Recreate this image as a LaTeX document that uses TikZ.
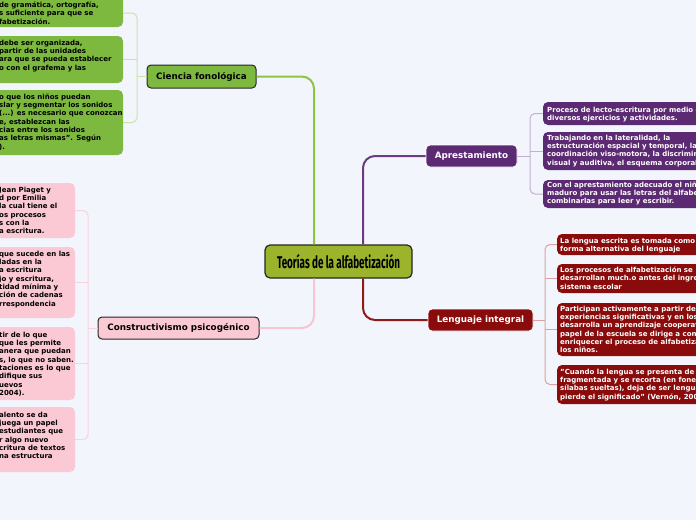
\documentclass[tikz,border=0pt]{standalone}
\usepackage{fontspec}
\setmainfont{DejaVu Sans}
\newfontfamily\condf{Fira Sans}
\usepackage{graphicx}
\definecolor{bgc}{HTML}{F3F5FC}
\definecolor{gfill}{HTML}{7DB93E}
\definecolor{cfill}{HTML}{9BB42C}
\definecolor{pfill}{HTML}{FBC9D4}
\definecolor{vfill}{HTML}{5C2A72}
\definecolor{rfill}{HTML}{8A0B0B}
\definecolor{gtr}{HTML}{8CC540}
\definecolor{ptr}{HTML}{F7C6D1}
\definecolor{vtr}{HTML}{6B3A80}
\definecolor{rtr}{HTML}{8E1A1A}
\definecolor{gbr}{HTML}{C8E3AA}
\definecolor{pbr}{HTML}{F8D3DB}
\definecolor{vbr}{HTML}{C4B0CE}
\definecolor{rbr}{HTML}{D9A3A3}
\begin{document}
\begin{tikzpicture}[x=1pt,y=-1pt,
  mainbox/.style={rounded corners=4pt, draw=black!85, line width=1pt, inner sep=0pt,
    font=\bfseries\fontsize{8.8}{10}\selectfont},
  childbox/.style={rounded corners=5pt, inner sep=0pt},
  ctext/.style={inner sep=0pt, anchor=north west, align=left,
    font=\bfseries\fontsize{7}{8.3}\selectfont},
  trunk/.style={line width=2pt, rounded corners=12pt},
  bracket/.style={line width=1pt, rounded corners=5pt}]
\useasboundingbox (0,0) rectangle (696,520);
\fill[bgc] (0,0) rectangle (696,520);
\begin{scope}
\clip (0,0) rectangle (696,520);
% main nodes
\node[mainbox, fill=cfill, line width=1.2pt, rounded corners=5pt, minimum width=147pt, minimum height=33pt] (central) at (338.5,261.5)
  {\resizebox{123pt}{\height}{\condf\bfseries\fontsize{17}{20}\selectfont Teorías de la alfabetización}};
\node[mainbox, fill=gfill, minimum width=109pt, minimum height=23pt] (ciencia) at (201.5,76.5) {Ciencia fonológica};
\node[mainbox, fill=pfill, minimum width=161pt, minimum height=22pt] (constr) at (178.5,328) {Constructivismo psicogénico};
\node[mainbox, fill=vfill, draw=white, line width=0.8pt, text=white, minimum width=91pt, minimum height=22pt] (apr) at (471.5,156) {Aprestamiento};
\node[mainbox, fill=rfill, draw=white, line width=0.8pt, text=white, minimum width=105pt, minimum height=22pt] (leng) at (480.5,320) {Lenguaje integral};
% green children
\node[childbox, fill=gfill, minimum width=133pt, minimum height=32pt] (g1) at (56.5,11) {};
\node[childbox, fill=gfill, minimum width=133pt, minimum height=47pt] (g2) at (56.5,59.5) {};
\node[childbox, fill=gfill, minimum width=133pt, minimum height=65pt] (g3) at (56.5,122.5) {};
\node[ctext] (g1t) at (-1,1.7) {de gramática, ortografía,\\s suficiente para que se\\fabetización.};
\node[ctext] (g2t) at (-1,39.7) {debe ser organizada,\\partir de las unidades\\ara que se pueda establecer\\o con el grafema y las};
\node[ctext] (g3t) at (-1,93.7) {o que los niños puedan\\slar y segmentar los sonidos\\(...) es necesario que conozcan\\e, establezcan las\\cias entre los sonidos\\as letras mismas". Según\\).};
% pink children
\node[childbox, fill=pfill, minimum width=85pt, minimum height=55pt] (p1) at (32.5,210.5) {};
\node[childbox, fill=pfill, minimum width=85pt, minimum height=71pt] (p2) at (32.5,282.5) {};
\node[childbox, fill=pfill, minimum width=85pt, minimum height=73pt] (p3) at (32.5,363.5) {};
\node[childbox, fill=pfill, minimum width=85pt, minimum height=65pt] (p4) at (32.5,439.5) {};
\node[ctext] (p1t) at (-1,186.7) {Jean Piaget y\\d por Emilia\\la cual tiene el\\os procesos\\s con la\\a escritura.};
\node[ctext] (p2t) at (-1,250.7) {que sucede en las\\ladas en la\\a escritura\\jo y escritura,\\tidad mínima y\\ción de cadenas\\rrespondencia};
\node[ctext] (p3t) at (-1,331.7) {tir de lo que\\que les permite\\anera que puedan\\s, lo que no saben.\\taciones es lo que\\difique sus\\uevos\\2004).};
\node[ctext] (p4t) at (-1,411.7) {alento se da\\juega un papel\\estudiantes que\\r algo nuevo\\critura de textos\\na estructura};
% purple children
\node[childbox, fill=vfill, minimum width=167pt, minimum height=23pt] (a1) at (626.5,113.5) {};
\node[childbox, fill=vfill, minimum width=167pt, minimum height=38pt] (a2) at (626.5,151) {};
\node[childbox, fill=vfill, minimum width=167pt, minimum height=28pt] (a3) at (626.5,194) {};
\node[ctext, text=white] (a1t) at (547,106.7) {Proceso de lecto-escritura por medio d\\diversos ejercicios y actividades.};
\node[ctext, text=white] (a2t) at (547,134.7) {Trabajando en la lateralidad, la\\estructuración espacial y temporal, la\\coordinación viso-motora, la discrimin\\visual y auditiva, el esquema corporal,};
\node[ctext, text=white] (a3t) at (547,181.7) {Con el aprestamiento adecuado el niño\\maduro para usar las letras del alfabet\\combinarlas para leer y escribir.};
% red children
\node[childbox, fill=rfill, minimum width=153pt, minimum height=21pt] (r1) at (633.5,244.5) {};
\node[childbox, fill=rfill, minimum width=153pt, minimum height=29pt] (r2) at (633.5,278.5) {};
\node[childbox, fill=rfill, minimum width=153pt, minimum height=53pt] (r3) at (633.5,329.5) {};
\node[childbox, fill=rfill, minimum width=153pt, minimum height=39pt] (r4) at (633.5,384.5) {};
\node[ctext, text=white] (r1t) at (560,237.7) {La lengua escrita es tomada como\\forma alternativa del lenguaje};
\node[ctext, text=white] (r2t) at (560,266.7) {Los procesos de alfabetización se\\desarrollan much.o antes del ingre\\sistema escolar};
\node[ctext, text=white] (r3t) at (560,305.7) {Participan activamente a partir de\\experiencias significativas y en los\\desarrolla un aprendizaje cooperat\\papel de la escuela se dirige a cont\\enriquecer el proceso de alfabetiza\\los niños.};
\node[ctext, text=white] (r4t) at (560,368.7) {"Cuando la lengua se presenta de r\\fragmentada y se recorta (en fone\\sílabas sueltas), deja de ser lengua\\pierde el significado" (Vernón, 200};
% bracket columns
\coordinate (gbx) at (137,0);
\coordinate (pbx) at (88,0);
\coordinate (vbx) at (530,0);
\coordinate (rbx) at (545,0);
% trunks
\draw[trunk, gtr] ([xshift=-24.5pt]central.north) |- (ciencia.east);
\draw[trunk, ptr] ([xshift=-24.5pt]central.south) |- (constr.east);
\draw[trunk, vtr] ([xshift=24.5pt]central.north) |- (apr.west);
\draw[trunk, rtr] ([xshift=24.5pt]central.south) |- (leng.west);
% brackets
\draw[bracket, gbr] ([yshift=-2pt]g1.east) -| (gbx |- g3.east) -- (g3.east);
\draw[bracket, gbr] (g2.east) -- (gbx |- g2.east);
\draw[bracket, gbr] (ciencia.west) -- (gbx |- ciencia.west);
\draw[bracket, pbr] (p1.east) -| (pbx |- p4.east) -- (p4.east);
\draw[bracket, pbr] (p2.east) -- (pbx |- p2.east);
\draw[bracket, pbr] (p3.east) -- (pbx |- p3.east);
\draw[bracket, pbr] (constr.west) -- (pbx |- constr.west);
\draw[bracket, vbr] (a1.west) -| (vbx |- a3.west) -- (a3.west);
\draw[bracket, vbr] (a2.west) -- (vbx |- a2.west);
\draw[bracket, vbr] (apr.east) -- (vbx |- apr.east);
\draw[bracket, rbr] (r1.west) -| (rbx |- r4.west) -- (r4.west);
\draw[bracket, rbr] (r2.west) -- (rbx |- r2.west);
\draw[bracket, rbr] (r3.west) -- (rbx |- r3.west);
\draw[bracket, rbr] (leng.east) -- (rbx |- leng.east);
\end{scope}
\end{tikzpicture}
\end{document}
